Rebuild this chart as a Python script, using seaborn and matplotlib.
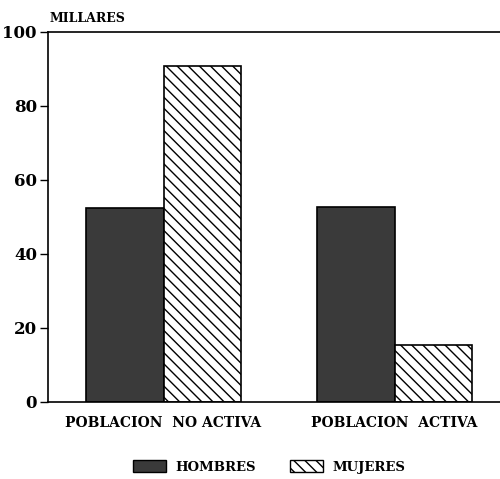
import pandas as pd
import seaborn as sns
import matplotlib.pyplot as plt
import matplotlib.patches as mpatches

categorias = ['POBLACION  NO ACTIVA', 'POBLACION  ACTIVA']
sexos = ['HOMBRES', 'MUJERES']
hombres = [52.4, 52.6]
mujeres = [90.8, 15.4]
yticks = [0, 20, 40, 60, 80, 100]

df = pd.DataFrame({
    'categoria': categorias * 2,
    'sexo': [sexos[0]] * 2 + [sexos[1]] * 2,
    'millares': hombres + mujeres,
})

sns.set_theme(style='white')
plt.rcParams['font.family'] = ['DejaVu Serif']
plt.rcParams['hatch.linewidth'] = 1.0
plt.rcParams['text.color'] = 'black'

fig = plt.figure(figsize=(5.0, 4.79), dpi=100)
ax = fig.add_axes([48 / 500, 1 - 402 / 479, 462 / 500, 370 / 479])

colores = {'HOMBRES': '#3a3a3a', 'MUJERES': 'white'}
sns.barplot(data=df, x='categoria', y='millares', hue='sexo', hue_order=sexos,
            palette=colores, width=0.67, edgecolor='black', linewidth=1.2,
            legend=False, ax=ax)

for p in ax.containers[1]:
    p.set_hatch('\\\\\\')

ax.set_xlim(-0.5, 1.5)
ax.set_ylim(0, 100)
ax.set_yticks(yticks)
ax.set_yticklabels([str(v) for v in yticks], fontsize=12, fontweight='bold')
ax.tick_params(axis='y', left=True, length=6, width=1, color='black',
               labelcolor='black', pad=2)
ax.tick_params(axis='x', bottom=False, labelsize=10, labelcolor='black', pad=4)
for t in ax.get_xticklabels():
    t.set_fontweight('bold')
ax.set_xlabel('')
ax.set_ylabel('')
for s in ax.spines.values():
    s.set_color('black')
    s.set_linewidth(1.2)

fig.text(50 / 500, 1 - 18 / 479, 'MILLARES', fontsize=9, fontweight='bold',
         va='center', ha='left')

handles = [
    mpatches.Patch(facecolor='#3a3a3a', edgecolor='black', label='HOMBRES'),
    mpatches.Patch(facecolor='white', edgecolor='black', hatch='\\\\\\', label='MUJERES'),
]
fig.legend(handles=handles, loc='center', bbox_to_anchor=(269 / 500, 1 - 467 / 479),
           ncol=2, frameon=False, handlelength=2.5, handleheight=1.0,
           handletextpad=0.7, columnspacing=2.6,
           prop={'size': 9.5, 'weight': 'bold'})

fig.savefig('out.png', dpi=100)
